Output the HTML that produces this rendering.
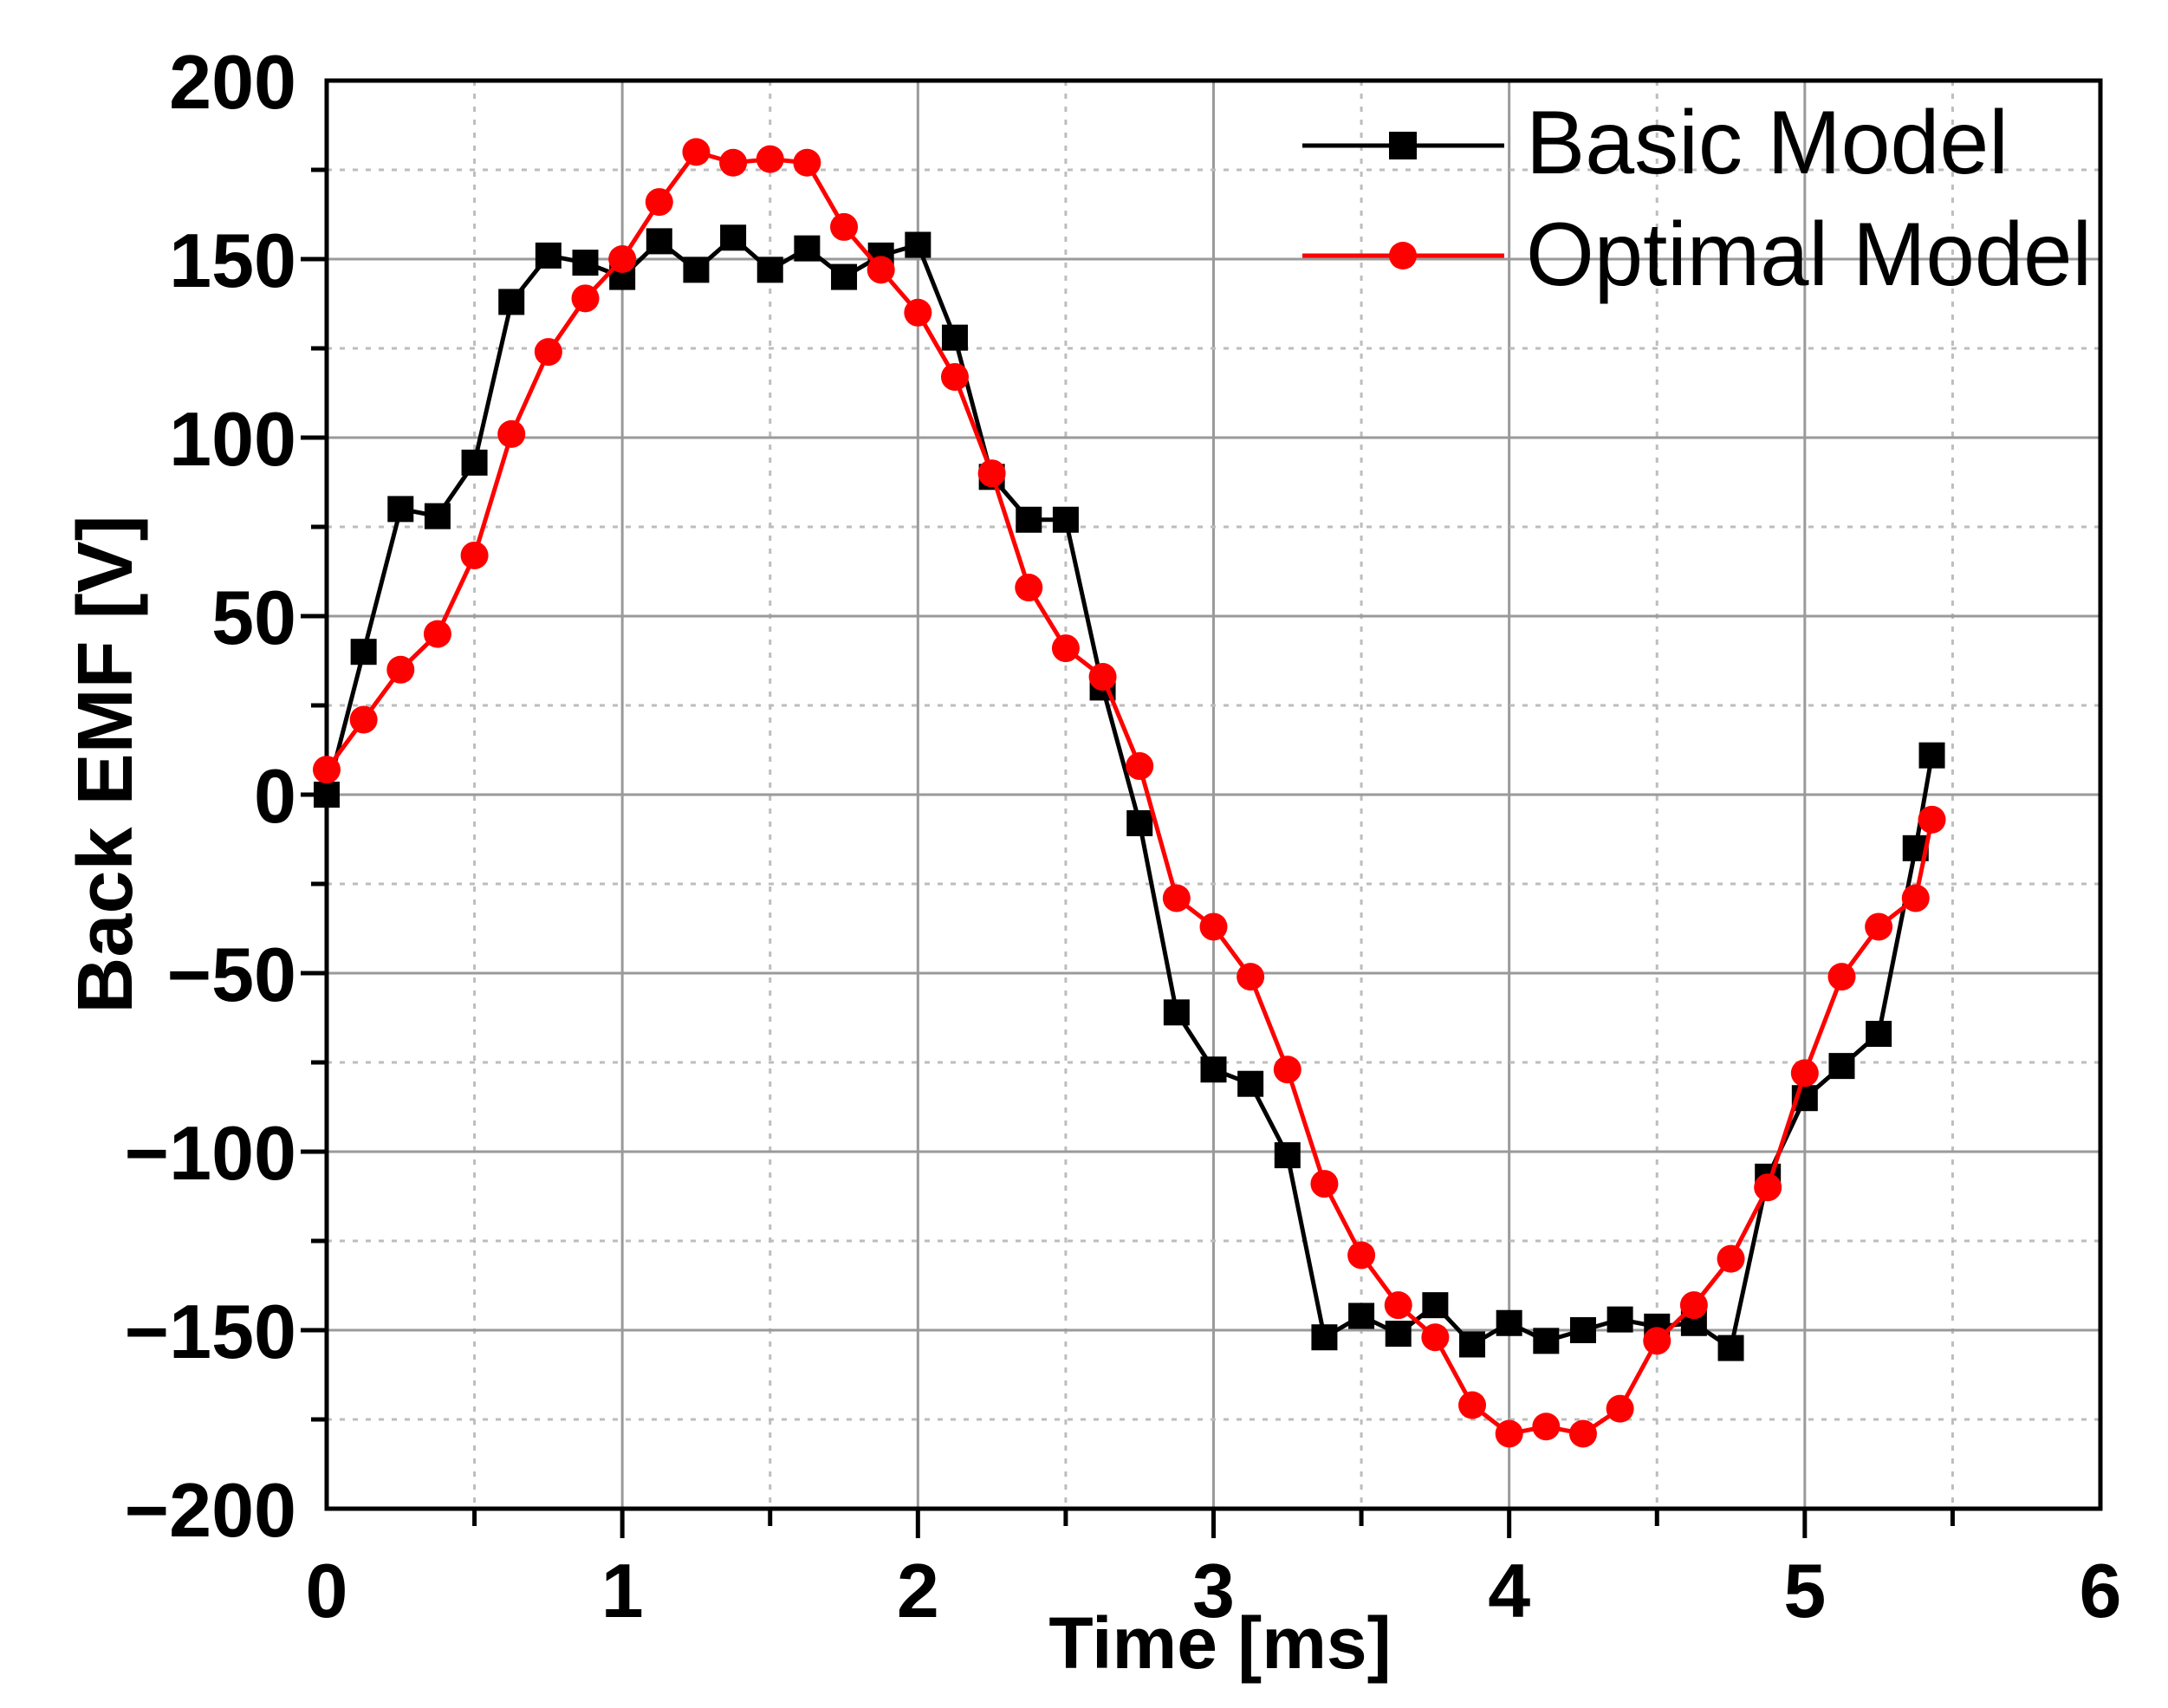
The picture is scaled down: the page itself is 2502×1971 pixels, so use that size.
<!DOCTYPE html>
<html><head><meta charset="utf-8"><style>
html,body{margin:0;padding:0;background:#fff}
svg{display:block}
text{font-family:"Liberation Sans",sans-serif}
</style></head><body>
<svg id="chart" width="2502" height="1971" viewBox="0 0 2502 1971" xmlns="http://www.w3.org/2000/svg">
<g id="grid"></g>
<g id="axes"></g>
<g id="series"></g>
<g id="legend">
  <line x1="1503" y1="168" x2="1736" y2="168" stroke="#000" stroke-width="5"/>
  <rect x="1603" y="152" width="32" height="32" fill="#000"/>
  <text x="1761" y="200" font-size="104" textLength="557" lengthAdjust="spacingAndGlyphs" fill="#000">Basic Model</text>
  <line x1="1503" y1="295" x2="1736" y2="295" stroke="#f00" stroke-width="5"/>
  <circle cx="1619" cy="295" r="16" fill="#f00"/>
  <text x="1761" y="329" font-size="104" textLength="653" lengthAdjust="spacingAndGlyphs" fill="#000">Optimal Model</text>
</g>
<text x="1408" y="1925" font-size="84" font-weight="bold" text-anchor="middle">Time [ms]</text>
<text transform="translate(152,882) rotate(-90)" font-size="90" font-weight="bold" text-anchor="middle">Back EMF [V]</text>
</svg>
<script>
const xTicks=[0,1,2,3,4,5,6];
const yTicks=[-200,-150,-100,-50,0,50,100,150,200];
const basicT=[0,0.125,0.25,0.375,0.5,0.625,0.75,0.875,1,1.125,1.25,1.375,1.5,1.625,1.75,1.875,2,2.125,2.25,2.375,2.5,2.625,2.75,2.875,3,3.125,3.25,3.375,3.5,3.625,3.75,3.875,4,4.125,4.25,4.375,4.5,4.625,4.75,4.875,5,5.125,5.25,5.375,5.43];
const basicV=[0,40,80,78,93,138,151,149,145,155,147,156,147,153,145,151,154,128,89,77,77,30,-8,-61,-77,-81,-101,-152,-146,-151,-143,-154,-148,-153,-150,-147,-149,-148,-155,-107,-85,-76,-67,-15,11];
const optT=[0,0.125,0.25,0.375,0.5,0.625,0.75,0.875,1,1.125,1.25,1.375,1.5,1.625,1.75,1.875,2,2.125,2.25,2.375,2.5,2.625,2.75,2.875,3,3.125,3.25,3.375,3.5,3.625,3.75,3.875,4,4.125,4.25,4.375,4.5,4.625,4.75,4.875,5,5.125,5.25,5.375,5.43];
const optV=[7,21,35,45,67,101,124,139,150,166,180,177,178,177,159,147,135,117,90,58,41,33,8,-29,-37,-51,-77,-109,-129,-143,-152,-171,-179,-177,-179,-172,-153,-143,-130,-110,-78,-51,-37,-29,-7];
const L=377,R=2424,T=93,B=1741;
const sx=v=>L+(v-0)/6*(R-L);
const sy=v=>B-(v+200)/400*(B-T);
const NS="http://www.w3.org/2000/svg";
function mk(tag,attrs,parent){const e=document.createElementNS(NS,tag);for(const k in attrs)e.setAttribute(k,attrs[k]);parent.appendChild(e);return e;}
const grid=document.getElementById('grid'),axes=document.getElementById('axes'),series=document.getElementById('series');
for(let x=0.5;x<6;x+=0.5){const major=Number.isInteger(x);
  const g=mk('line',{x1:sx(x),x2:sx(x),y1:T,y2:B,stroke:major?'#9a9a9a':'#bdbdbd','stroke-width':3,'stroke-dasharray':major?'none':'6 9'},grid);
  
  
  const t=mk('line',{x1:sx(x),x2:sx(x),y1:B,y2:B+(major?34:20),stroke:'#000','stroke-width':5},axes);
  
  
}
for(let y=-175;y<200;y+=25){const major=y%50===0;
  const g=mk('line',{x1:L,x2:R,y1:sy(y),y2:sy(y),stroke:major?'#9a9a9a':'#bdbdbd','stroke-width':3,'stroke-dasharray':major?'none':'6 9'},grid);
  
  
  const t=mk('line',{x1:L-(major?30:18),x2:L,y1:sy(y),y2:sy(y),stroke:'#000','stroke-width':5},axes);
  
  
}
const frame=mk('rect',{x:L,y:T,width:R-L,height:B-T,fill:'none',stroke:'#000','stroke-width':5},axes);


xTicks.forEach(v=>{const t=mk('text',{x:sx(v),y:1866,'font-size':88,'font-weight':'bold','text-anchor':'middle'},axes);t.textContent=v;
  
  });
yTicks.forEach(v=>{const t=mk('text',{x:342,y:sy(v)+32,'font-size':88,'font-weight':'bold','text-anchor':'end'},axes);t.textContent=v<0?'\u2212'+(-v):v;
  
  });
function draw(ts,vs,color,shape,name){
  const pl=mk('polyline',{points:ts.map((t,i)=>sx(t)+','+sy(vs[i])).join(' '),fill:'none',stroke:color,'stroke-width':5},series);
  
  
  ts.forEach((t,i)=>{let m;
    if(shape==='sq')m=mk('rect',{x:sx(t)-15,y:sy(vs[i])-15,width:30,height:30,fill:color},series);
    else m=mk('circle',{cx:sx(t),cy:sy(vs[i]),r:16,fill:color},series);
    
    });
}
draw(basicT,basicV,'#000','sq','basic-model');
draw(optT,optV,'#f00','ci','optimal-model');
</script>
</body></html>
